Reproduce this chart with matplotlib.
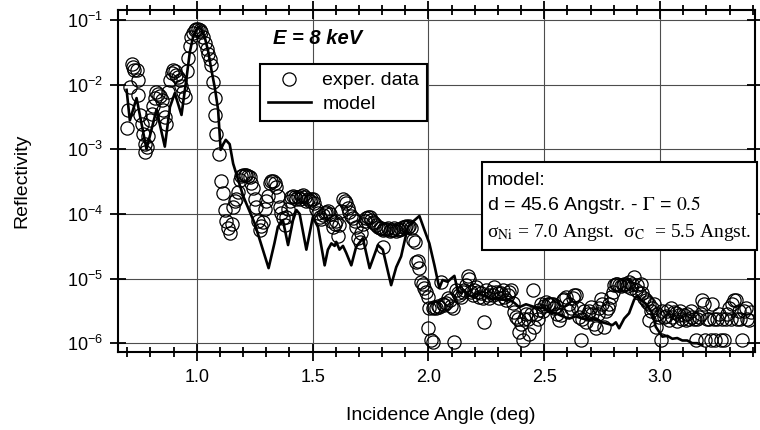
import matplotlib
matplotlib.use('Agg')
import matplotlib.pyplot as plt
from matplotlib.ticker import MultipleLocator, LogLocator, NullLocator, LogFormatterSciNotation
from matplotlib.patches import Rectangle

plt.rcParams['font.family'] = ['Liberation Sans', 'DejaVu Sans']

# experimental points (angle in deg, reflectivity)
exp_angle = [
    0.697, 0.704, 0.711, 0.719, 0.726, 0.730, 0.740, 0.747, 0.747, 0.754,
    0.762, 0.769, 0.776, 0.776, 0.783, 0.790, 0.797, 0.805, 0.812, 0.819,
    0.826, 0.833, 0.840, 0.848, 0.855, 0.862, 0.869, 0.876, 0.884, 0.891,
    0.898, 0.905, 0.912, 0.920, 0.927, 0.934, 0.941, 0.948, 0.956, 0.963,
    0.970, 0.977, 0.984, 0.991, 0.998, 1.006, 1.013, 1.020, 1.027, 1.034,
    1.042, 1.049, 1.056, 1.063, 1.070, 1.078, 1.078, 1.085, 1.097, 1.106,
    1.113, 1.121, 1.128, 1.135, 1.142, 1.150, 1.157, 1.164, 1.171, 1.178,
    1.185, 1.192, 1.200, 1.207, 1.214, 1.221, 1.228, 1.236, 1.243, 1.250,
    1.257, 1.264, 1.272, 1.279, 1.286, 1.293, 1.300, 1.307, 1.315, 1.322,
    1.329, 1.336, 1.343, 1.350, 1.358, 1.365, 1.372, 1.379, 1.386, 1.394,
    1.401, 1.408, 1.415, 1.422, 1.430, 1.437, 1.444, 1.451, 1.458, 1.466,
    1.473, 1.480, 1.487, 1.494, 1.501, 1.508, 1.515, 1.523, 1.530, 1.537,
    1.545, 1.552, 1.559, 1.566, 1.573, 1.580, 1.588, 1.595, 1.602, 1.609,
    1.616, 1.624, 1.631, 1.638, 1.645, 1.652, 1.659, 1.667, 1.674, 1.681,
    1.688, 1.695, 1.703, 1.710, 1.717, 1.724, 1.731, 1.739, 1.746, 1.753,
    1.760, 1.767, 1.775, 1.782, 1.789, 1.796, 1.803, 1.803, 1.810, 1.818,
    1.825, 1.832, 1.839, 1.846, 1.853, 1.861, 1.868, 1.875, 1.882, 1.890,
    1.897, 1.904, 1.911, 1.918, 1.925, 1.933, 1.940, 1.947, 1.954, 1.961,
    1.968, 1.976, 1.983, 1.990, 1.997, 1.997, 2.004, 2.012, 2.019, 2.019,
    2.026, 2.033, 2.040, 2.047, 2.055, 2.062, 2.069, 2.076, 2.083, 2.091,
    2.098, 2.105, 2.112, 2.119, 2.126, 2.134, 2.141, 2.148, 2.155, 2.162,
    2.170, 2.177, 2.184, 2.191, 2.198, 2.206, 2.213, 2.220, 2.227, 2.234,
    2.241, 2.249, 2.256, 2.263, 2.270, 2.277, 2.285, 2.292, 2.299, 2.306,
    2.313, 2.320, 2.327, 2.334, 2.342, 2.349, 2.356, 2.363, 2.371, 2.378,
    2.385, 2.392, 2.400, 2.407, 2.414, 2.421, 2.428, 2.435, 2.443, 2.450,
    2.457, 2.464, 2.471, 2.478, 2.486, 2.493, 2.500, 2.507, 2.514, 2.522,
    2.529, 2.536, 2.543, 2.550, 2.557, 2.565, 2.572, 2.579, 2.586, 2.594,
    2.601, 2.608, 2.615, 2.622, 2.629, 2.636, 2.644, 2.651, 2.658, 2.665,
    2.672, 2.680, 2.687, 2.694, 2.701, 2.708, 2.716, 2.722, 2.730, 2.737,
    2.744, 2.751, 2.758, 2.766, 2.773, 2.780, 2.787, 2.795, 2.802, 2.809,
    2.816, 2.823, 2.830, 2.838, 2.845, 2.852, 2.859, 2.866, 2.873, 2.880,
    2.888, 2.895, 2.902, 2.909, 2.916, 2.923, 2.931, 2.938, 2.945, 2.953,
    2.953, 2.960, 2.967, 2.974, 2.981, 2.988, 2.995, 3.002, 3.010, 3.017,
    3.024, 3.031, 3.038, 3.045, 3.053, 3.060, 3.067, 3.074, 3.081, 3.088,
    3.096, 3.103, 3.110, 3.117, 3.124, 3.132, 3.139, 3.146, 3.153, 3.160,
    3.167, 3.175, 3.182, 3.189, 3.196, 3.203, 3.210, 3.218, 3.225, 3.232,
    3.239, 3.246, 3.254, 3.261, 3.268, 3.276, 3.283, 3.290, 3.297, 3.304,
    3.311, 3.319, 3.326, 3.333, 3.340, 3.347, 3.355, 3.362, 3.369, 3.376,
    3.384, 3.391,
]
exp_refl = [
    2.1e-3, 4.0e-3, 9.3e-3, 2.1e-2, 1.9e-2, 1.7e-2, 1.7e-2, 1.2e-2, 6.9e-3, 3.4e-3,
    2.5e-3, 1.7e-3, 1.2e-3, 9.1e-4, 1.1e-3, 1.6e-3, 2.8e-3, 3.5e-3, 4.6e-3, 6.2e-3,
    7.8e-3, 7.1e-3, 6.6e-3, 5.8e-3, 4.1e-3, 3.2e-3, 2.5e-3, 7.8e-3, 1.2e-2, 1.5e-2,
    1.7e-2, 1.65e-2, 1.4e-2, 1.3e-2, 1.2e-2, 9.5e-3, 7.8e-3, 6.5e-3, 1.6e-2, 2.6e-2,
    3.9e-2, 5.5e-2, 6.3e-2, 7.1e-2, 7.4e-2, 7.4e-2, 7.1e-2, 6.6e-2, 5.5e-2, 4.4e-2,
    3.6e-2, 3.0e-2, 2.5e-2, 2.0e-2, 1.1e-2, 6.2e-3, 3.4e-3, 1.7e-3, 8.5e-4, 3.2e-4,
    2.1e-4, 1.15e-4, 7.9e-5, 6.0e-5, 5.0e-5, 7.1e-5, 1.3e-4, 1.6e-4, 1.7e-4, 2.2e-4,
    3.3e-4, 3.8e-4, 4.0e-4, 4.0e-4, 4.0e-4, 3.8e-4, 3.7e-4, 3.0e-4, 2.5e-4, 1.7e-4,
    1.3e-4, 7.9e-5, 5.6e-5, 6.6e-5, 7.6e-5, 1.2e-4, 1.6e-4, 1.9e-4, 3.0e-4, 3.2e-4,
    3.2e-4, 3.0e-4, 2.6e-4, 1.9e-4, 1.3e-4, 1.05e-4, 8.5e-5, 6.8e-5, 8.9e-5, 1.2e-4,
    1.6e-4, 1.8e-4, 1.9e-4, 1.8e-4, 1.7e-4, 1.8e-4, 1.7e-4, 1.9e-4, 1.95e-4, 1.8e-4,
    1.6e-4, 1.7e-4, 1.6e-4, 1.7e-4, 1.7e-4, 1.45e-4, 1.2e-4, 1.05e-4, 9.1e-5, 8.3e-5,
    9.5e-5, 1.05e-4, 1.07e-4, 1.1e-4, 1.0e-4, 7.9e-5, 6.3e-5, 7.1e-5, 7.9e-5, 4.5e-5,
    6.8e-5, 1.1e-4, 1.7e-4, 1.6e-4, 1.45e-4, 1.25e-4, 1.07e-4, 9.3e-5, 8.7e-5, 7.9e-5,
    6.3e-5, 4.2e-5, 3.7e-5, 5.0e-5, 7.1e-5, 7.9e-5, 8.5e-5, 8.9e-5, 9.1e-5, 8.1e-5,
    7.6e-5, 7.2e-5, 6.8e-5, 6.3e-5, 6.0e-5, 6.0e-5, 5.6e-5, 3.1e-5, 5.8e-5, 5.8e-5,
    6.0e-5, 5.5e-5, 5.6e-5, 5.6e-5, 6.0e-5, 5.5e-5, 5.9e-5, 5.6e-5, 5.9e-5, 6.3e-5,
    6.3e-5, 6.6e-5, 6.3e-5, 6.5e-5, 6.0e-5, 4.0e-5, 3.7e-5, 1.8e-5, 1.9e-5, 1.45e-5,
    8.9e-6, 8.3e-6, 7.1e-6, 6.3e-6, 5.2e-6, 1.7e-6, 3.5e-6, 1.1e-6, 1.05e-6, 3.5e-6,
    3.6e-6, 3.5e-6, 3.8e-6, 3.6e-6, 8.9e-6, 4.0e-6, 3.9e-6, 4.2e-6, 5.0e-6, 4.7e-6,
    3.8e-6, 3.5e-6, 1.05e-6, 6.6e-6, 6.0e-6, 5.6e-6, 5.2e-6, 6.3e-6, 6.6e-6, 7.9e-6,
    1.1e-5, 1.0e-5, 6.3e-6, 5.6e-6, 6.6e-6, 7.4e-6, 6.3e-6, 5.2e-6, 6.0e-6, 5.0e-6,
    2.1e-6, 6.6e-6, 5.6e-6, 5.0e-6, 6.3e-6, 5.6e-6, 7.4e-6, 6.3e-6, 6.0e-6, 5.0e-6,
    6.0e-6, 6.6e-6, 5.2e-6, 4.7e-6, 5.6e-6, 6.3e-6, 6.6e-6, 4.2e-6, 3.0e-6, 2.5e-6,
    2.4e-6, 1.5e-6, 2.0e-6, 1.1e-6, 2.4e-6, 2.8e-6, 2.4e-6, 1.4e-6, 2.8e-6, 6.6e-6,
    1.8e-6, 2.8e-6, 2.4e-6, 3.3e-6, 4.0e-6, 3.2e-6, 3.8e-6, 4.3e-6, 4.0e-6, 4.1e-6,
    4.0e-6, 4.1e-6, 3.5e-6, 3.8e-6, 2.8e-6, 2.3e-6, 2.7e-6, 4.7e-6, 4.9e-6, 5.2e-6,
    3.2e-6, 4.0e-6, 3.5e-6, 5.0e-6, 5.5e-6, 5.5e-6, 3.5e-6, 2.5e-6, 1.1e-6, 2.4e-6,
    3.2e-6, 2.1e-6, 2.8e-6, 3.2e-6, 3.6e-6, 2.8e-6, 2.0e-6, 1.7e-6, 2.8e-6, 3.5e-6,
    4.9e-6, 4.0e-6, 1.8e-6, 3.2e-6, 3.5e-6, 4.0e-6, 5.2e-6, 6.3e-6, 7.9e-6, 8.3e-6,
    8.3e-6, 7.9e-6, 7.6e-6, 7.9e-6, 8.3e-6, 8.3e-6, 7.6e-6, 8.9e-6, 7.1e-6, 8.3e-6,
    1.07e-5, 6.6e-6, 7.9e-6, 5.9e-6, 8.3e-6, 6.0e-6, 5.0e-6, 4.7e-6, 4.4e-6, 4.1e-6,
    2.3e-6, 3.2e-6, 3.5e-6, 4.0e-6, 1.8e-6, 2.8e-6, 2.5e-6, 1.1e-6, 3.2e-6, 2.5e-6,
    2.6e-6, 3.2e-6, 2.3e-6, 3.5e-6, 2.5e-6, 3.0e-6, 2.9e-6, 2.2e-6, 2.7e-6, 3.2e-6,
    2.4e-6, 2.7e-6, 2.3e-6, 2.8e-6, 2.4e-6, 3.2e-6, 2.5e-6, 2.4e-6, 1.1e-6, 2.4e-6,
    2.5e-6, 2.8e-6, 4.7e-6, 4.0e-6, 1.1e-6, 2.4e-6, 2.4e-6, 1.1e-6, 4.1e-6, 2.4e-6,
    1.1e-6, 2.4e-6, 2.8e-6, 1.1e-6, 2.4e-6, 1.1e-6, 2.4e-6, 2.8e-6, 3.5e-6, 2.4e-6,
    4.0e-6, 4.7e-6, 4.7e-6, 2.4e-6, 3.2e-6, 2.4e-6, 1.1e-6, 3.2e-6, 3.5e-6, 2.4e-6,
    2.3e-6, 3.0e-6,
]

# model curve
model_angle = [
    0.697, 0.711, 0.740, 0.783, 0.826, 0.862, 0.884, 0.905, 0.934, 0.956,
    0.970, 0.984, 1.006, 1.020, 1.034, 1.049, 1.063, 1.078, 1.092, 1.103,
    1.114, 1.125, 1.142, 1.157, 1.200, 1.250, 1.310, 1.335, 1.350, 1.372,
    1.394, 1.415, 1.430, 1.444, 1.473, 1.501, 1.523, 1.552, 1.566, 1.581,
    1.595, 1.602, 1.616, 1.631, 1.645, 1.667, 1.688, 1.717, 1.746, 1.782,
    1.803, 1.839, 1.861, 1.882, 1.911, 1.933, 1.961, 1.983, 2.004, 2.026,
    2.047, 2.061, 2.083, 2.098, 2.112, 2.126, 2.141, 2.155, 2.170, 2.191,
    2.213, 2.234, 2.256, 2.277, 2.299, 2.320, 2.349, 2.371, 2.392, 2.421,
    2.450, 2.478, 2.500, 2.522, 2.550, 2.579, 2.608, 2.636, 2.665, 2.694,
    2.722, 2.751, 2.773, 2.794, 2.809, 2.823, 2.845, 2.866, 2.888, 2.902,
    2.916, 2.938, 2.967, 2.981, 3.010, 3.031, 3.053, 3.074, 3.096, 3.117,
    3.139, 3.160, 3.182,
]
model_refl = [
    8.3e-3, 2.8e-3, 6.2e-3, 1.0e-3, 4.1e-3, 1.1e-3, 4.5e-3, 7.4e-3, 3.4e-3, 1.3e-2,
    3.2e-2, 5.5e-2, 7.9e-2, 7.1e-2, 5.5e-2, 3.3e-2, 1.7e-2, 8.9e-3, 4.1e-3, 9.8e-4,
    1.2e-3, 1.4e-3, 1.2e-3, 6.0e-4, 1.9e-4, 7.1e-5, 1.45e-5, 3.5e-5, 6.3e-5, 7.9e-5,
    3.3e-5, 7.9e-5, 1.15e-4, 1.0e-4, 2.8e-5, 8.9e-5, 6.3e-5, 1.6e-5, 2.8e-5, 3.5e-5,
    3.2e-5, 3.7e-5, 2.8e-5, 3.2e-5, 2.5e-5, 1.6e-5, 3.1e-5, 4.2e-5, 1.45e-5, 3.3e-5,
    2.8e-5, 7.9e-6, 1.5e-5, 2.2e-5, 6.3e-5, 7.6e-5, 9.3e-5, 5.6e-5, 3.5e-5, 1.6e-5,
    7.1e-6, 9.5e-6, 8.9e-6, 1.0e-5, 1.1e-5, 6.6e-6, 5.9e-6, 6.6e-6, 5.6e-6, 5.2e-6,
    6.0e-6, 5.5e-6, 5.2e-6, 4.7e-6, 5.0e-6, 4.7e-6, 4.7e-6, 4.2e-6, 3.6e-6, 4.0e-6,
    3.7e-6, 3.5e-6, 3.5e-6, 3.0e-6, 2.9e-6, 2.6e-6, 2.4e-6, 2.6e-6, 2.4e-6, 2.3e-6,
    2.4e-6, 2.1e-6, 2.0e-6, 1.9e-6, 2.1e-6, 1.7e-6, 2.4e-6, 2.9e-6, 4.7e-6, 5.5e-6,
    4.7e-6, 4.1e-6, 2.9e-6, 1.8e-6, 1.26e-6, 1.3e-6, 1.17e-6, 1.2e-6, 1.1e-6, 1.1e-6,
    1.0e-6, 1.0e-6, 9.3e-7,
]

fig = plt.figure(figsize=(7.6, 4.3), dpi=100)
ax = fig.add_axes([0.1553, 0.1814, 0.8382, 0.7953])

ax.plot(exp_angle, exp_refl, 'o', mfc='none', mec='black', ms=9.5, mew=0.9,
        label='exper. data', zorder=3)
ax.plot(model_angle, model_refl, '-', color='black', lw=1.9, label='model', zorder=4)

ax.set_yscale('log')
ax.set_xlim(0.66, 3.41)
ax.set_ylim(7.3e-7, 0.143)

ax.xaxis.set_major_locator(MultipleLocator(0.5))
ax.xaxis.set_minor_locator(MultipleLocator(0.1))
ax.yaxis.set_major_locator(LogLocator(base=10))
ax.yaxis.set_minor_locator(NullLocator())
ax.yaxis.set_major_formatter(LogFormatterSciNotation())

ax.grid(True, which='major', color='0.3', lw=0.8, zorder=0)
ax.set_axisbelow(True)

for s in ax.spines.values():
    s.set_linewidth(1.5)

ax.tick_params(which='both', direction='inout', top=True, right=True,
               labelsize=13, width=1.3, color='black')
ax.tick_params(axis='x', which='major', length=13, pad=6)
ax.tick_params(axis='x', which='minor', length=7)
ax.tick_params(axis='y', which='major', length=12, pad=5)

fig.text(0.029, 0.58, 'Reflectivity', rotation=90, ha='center', va='center', fontsize=14)
fig.text(0.58, 0.033, 'Incidence Angle (deg)', ha='center', va='center', fontsize=14)

fig.text(318 / 760, 1 - 39 / 430, 'E = 8 keV', ha='center', va='center',
         fontsize=14.5, fontweight='bold', fontstyle='italic')

leg = ax.legend(loc='upper left', bbox_to_anchor=(260 / 760, 1 - 64 / 430),
                bbox_transform=fig.transFigure, borderaxespad=0, fontsize=14,
                fancybox=False, framealpha=1, edgecolor='black',
                handlelength=2.2, handletextpad=0.6, labelspacing=0.3,
                borderpad=0.4)
leg.get_frame().set_linewidth(1.5)
leg.set_zorder(6)

# model parameter box
box = Rectangle((482 / 760, 1 - 250 / 430), (757 - 482) / 760, (250 - 162) / 430,
                transform=fig.transFigure, facecolor='white', edgecolor='black',
                lw=1.5, zorder=6)
fig.patches.append(box)
fig.text(487 / 760, 1 - 180 / 430, 'model:', fontsize=14, va='center', zorder=7)
fig.text(487 / 760, 1 - 205 / 430, r'd = 45.6 Angstr. - $\Gamma$ = $0.5$', fontsize=14,
         va='center', math_fontfamily='stix', zorder=7)
fig.text(487 / 760, 1 - 232 / 430,
         r'σ$_{\rm Ni}$ = 7.0 Angst.  σ$_{\rm C}$  = 5.5 Angst.',
         fontsize=14, va='center', family=['Liberation Serif', 'DejaVu Serif'],
         math_fontfamily='stix', zorder=7)

fig.savefig('out.png', dpi=100)
